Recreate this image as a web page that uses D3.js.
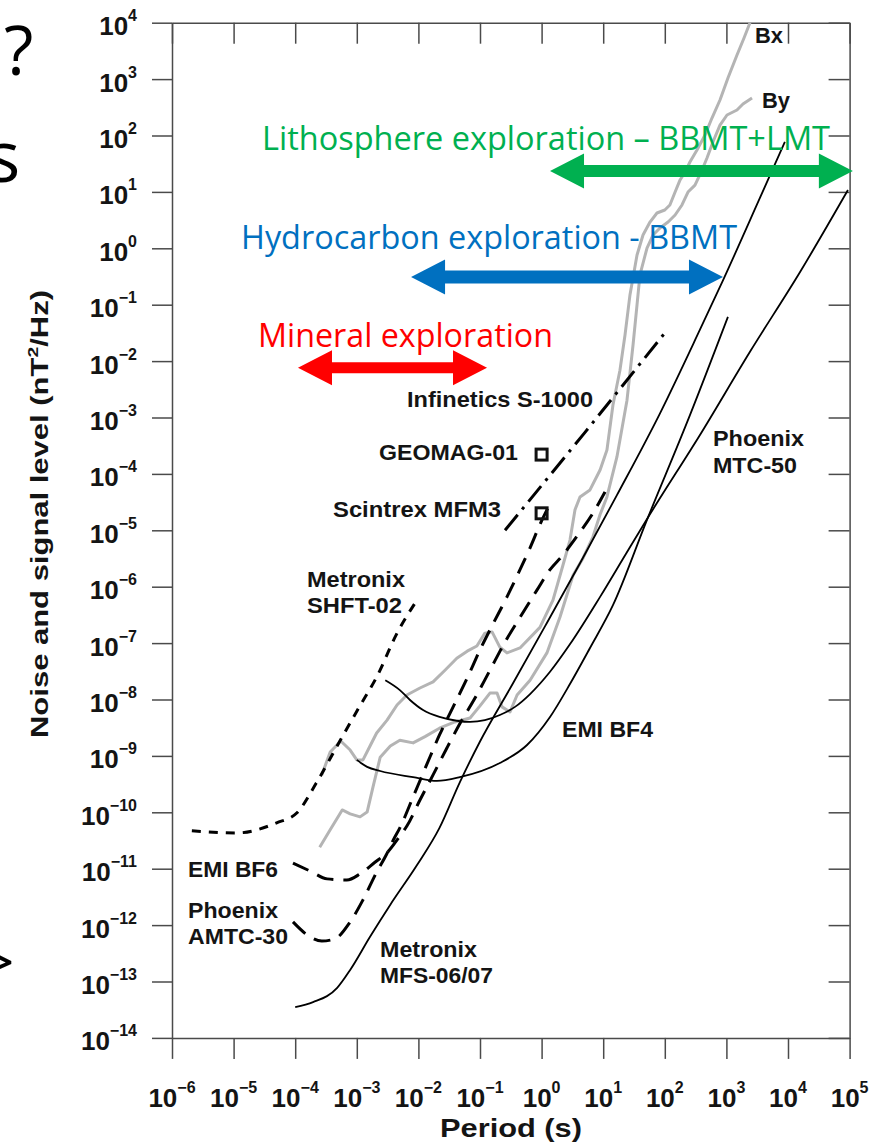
<!DOCTYPE html>
<html lang="en">
<head>
<meta charset="UTF-8">
<title>Magnetometer noise vs period</title>
<script src="https://d3js.org/d3.v7.min.js"></script>
<style>
  body { margin: 0; background: #fff; }
  svg { display: block; }
  .lbl { font-family: 'Liberation Sans', Arial, sans-serif; font-weight: bold; fill: #141414; }
  .slide { font-family: 'Open Sans', 'Noto Sans', sans-serif; }
</style>
</head>
<body>
<script>
// tick labels (powers of ten)
const xTickExps = [-6, -5, -4, -3, -2, -1, 0, 1, 2, 3, 4, 5];
const yTickExps = [-14, -13, -12, -11, -10, -9, -8, -7, -6, -5, -4, -3, -2, -1, 0, 1, 2, 3, 4];

// [period s, level nT^2/Hz]
const shft02 = [[2.1e-6,4.7e-11],[1.1e-5,4.3e-11],[5.0e-5,6.5e-11],[1.07e-4,9.8e-11],[2.2e-4,3.3e-10],
  [5.4e-4,1.9e-9],[1.1e-3,7.4e-9],[2.1e-3,2.5e-8],[4.5e-3,1.5e-7],[9.5e-3,5.8e-7]];
const bf6 = [[9.2e-5,1.26e-11],[1.74e-4,9.1e-12],[3.3e-4,6.6e-12],[6.9e-4,6.3e-12],[1.13e-3,8.1e-12],
  [1.97e-3,1.3e-11],[3.2e-3,2.0e-11],[5.0e-3,3.8e-11],[6.5e-3,5.7e-11],[1.06e-2,1.65e-10],[1.73e-2,4.6e-10],
  [2.9e-2,1.38e-9],[4.7e-2,3.7e-9],[8.3e-2,1.06e-8],[0.145,3.3e-8],[0.255,1.05e-7],[0.45,2.9e-7],
  [0.84,8.7e-7],[1.37,2.0e-6],[2.2,3.6e-6],[3.9,8.3e-6],[6.6,1.9e-5],[10.7,4.8e-5]];
const amtc30 = [[9.2e-5,1.14e-12],[1.74e-4,6.2e-13],[2.7e-4,5.2e-13],[4.4e-4,5.7e-13],[7.8e-4,1.14e-12],
  [1.26e-3,2.8e-12],[2.1e-3,8.7e-12],[3.0e-3,1.75e-11],[3.9e-3,3.2e-11],[5.0e-3,5.3e-11],[8.2e-3,1.87e-10],
  [1.38e-2,7.2e-10],[2.2e-2,2.35e-9],[3.6e-2,7.1e-9],[6.2e-2,2.4e-8],[0.1,7.6e-8],[0.163,2.2e-7],
  [0.274,6.6e-7],[0.446,2.0e-6],[0.65,4.9e-6],[0.98,1.4e-5],[1.27,2.5e-5]];
const infinetics = [[0.255,1.0e-5],[5.1,5.5e-4],[100,3.15e-2]];
const mfs0607 = [[1.0e-4,3.5e-14],[1.95e-4,4.3e-14],[4.8e-4,7.7e-14],[7.8e-4,1.6e-13],[1.64e-3,6.2e-13],
  [3.5e-3,2.3e-12],[9.5e-3,1.16e-11],[2.2e-2,5.3e-11],[4.7e-2,3.4e-10],[0.1,1.8e-9],[0.34,1.9e-8],
  [1.14,2.0e-7],[4.2,2.6e-6],[16.7,4.2e-5],[84,1.2e-3],[372,3.6e-2],[880,0.27],[3500,7.8],[8900,77]];
const mtc50 = [[2.9e-3,2.2e-8],[5.0e-3,1.47e-8],[7.3e-3,9.8e-9],[1.19e-2,6.5e-9],[2.2e-2,4.9e-9],
  [4.2e-2,4.2e-9],[6.9e-2,4.0e-9],[0.12,4.3e-9],[0.21,5.3e-9],[0.37,7.4e-9],[0.65,1.25e-8],[1.37,3.1e-8],
  [2.9,9.6e-8],[8.9,6.6e-7],[24,4.0e-6],[57,1.9e-5],[372,4.9e-4],[2400,1.45e-2],[15700,0.38],[94000,10.8]];
const bf4 = [[1.0e-3,8.5e-10],[1.47e-3,6.4e-10],[2.4e-3,5.4e-10],[8.2e-3,4.2e-10],[2.0e-2,3.6e-10],
  [4.7e-2,4.2e-10],[0.21,7.5e-10],[0.58,1.56e-9],[1.37,4.9e-9],[2.9,1.9e-8],[6.1,8.2e-8],[14.4,4.7e-7],
  [51,1.5e-5],[256,1.1e-3],[1060,6.1e-2]];
const bxSignal = [[2.7e-4,4.6e-10],[3.7e-4,1.17e-9],[5.5e-4,1.84e-9],[7.8e-4,1.27e-9],[1.0e-3,8.5e-10],
  [1.26e-3,8.5e-10],[1.64e-3,1.5e-9],[2.1e-3,2.55e-9],[3.1e-3,4.3e-9],[4.5e-3,8.0e-9],[6.5e-3,1.2e-8],
  [1.06e-2,1.6e-8],[1.73e-2,2.05e-8],[2.7e-2,3.3e-8],[4.2e-2,5.4e-8],[6.2e-2,7.2e-8],[8.9e-2,8.9e-8],
  [0.12,1.5e-7],[0.157,1.58e-7],[0.21,8.5e-8],[0.274,6.7e-8],[0.446,8.2e-8],[0.94,1.9e-7],[1.53,5.8e-7],
  [2.22,2.4e-6],[2.89,6.7e-6],[3.48,2.3e-5],[4.2,3.9e-5],[6.1,5.2e-5],[8.9,1.17e-4],[11.5,2.65e-4],
  [14.4,1.67e-3],[18.7,6.9e-3],[22.6,2.9e-2],[27.2,0.149],[35.4,0.76],[44.3,1.72],[57.5,2.92],[74.6,4.23],
  [100,4.78],[121,5.86],[147,9.95],[177,16.3],[213,22.5],[256,33.9],[333,55.3],[450,102],[583,204],
  [787,426],[1060,1047],[1486,2673],[1932,5358],[2415,1e4]];
const bySignal = [[2.5e-4,2.4e-11],[3.7e-4,4.9e-11],[5.8e-4,1.1e-10],[7.8e-4,9.4e-11],[1.13e-3,8.3e-11],
  [1.47e-3,1.01e-10],[1.83e-3,2.8e-10],[2.4e-3,9.5e-10],[3.5e-3,1.5e-9],[5.0e-3,1.9e-9],[8.2e-3,1.7e-9],
  [1.28e-2,2.2e-9],[2.2e-2,3.1e-9],[3.9e-2,4.0e-9],[6.9e-2,4.7e-9],[0.1,7.7e-9],[0.145,1.3e-8],
  [0.189,1.3e-8],[0.228,7.4e-9],[0.307,6.0e-9],[0.40,1.2e-8],[0.65,2.2e-8],[1.22,6.7e-8],[1.99,2.9e-7],
  [3.24,1.6e-6],[4.7,3.2e-6],[6.8,7.6e-6],[8.9,1.9e-5],[11.5,3.9e-5],[16.7,2.0e-4],[24.3,2.0e-3],
  [30.5,1.93e-2],[35.4,9.9e-2],[39.5,0.337],[51.4,1.01],[64.3,1.72],[83.6,2.29],[113,2.92],[147,3.89],
  [190,5.86],[238,9.95],[309,13.2],[402,24.4],[484,39.9],[605,76.7],[787,153],[1023,231],[1486,283],
  [1858,362],[2606,462]];
// single-point sensors (GEOMAG-01, Scintrex MFM3)
const pointSensors = [[1, 2.2e-4], [1, 2.0e-5]];

// exploration period ranges
const rangeNames = ['Lithosphere exploration \u2013 BBMT+LMT', 'Hydrocarbon exploration - BBMT', 'Mineral exploration'];
const rangeFrom = [1.37, 7.6e-3, 1.11e-4];
const rangeTo = [1.13e5, 880, 0.13];
const rangeLevel = [23.4, 0.31, 7.6e-3];

const W = 872, H = 1143;
const svg = d3.select('body').append('svg').attr('width', W).attr('height', H);

const x = d3.scaleLog().domain([1e-6, 1e5]).range([172, 849.6]);
const y = d3.scaleLog().domain([1e-14, 1e4]).range([1037.9, 22.7]);

// leftover slide text at the left edge
svg.append('text').attr('class', 'slide').attr('x', 4).attr('y', 75).attr('font-size', 68).text('?');
svg.append('text').attr('class', 'slide').attr('x', -14).attr('y', 182).attr('font-size', 72).text('s');
svg.append('text').attr('class', 'slide').attr('x', -22).attr('y', 985).attr('font-size', 64).text('>');

// frame + ticks
const frameColor = '#4a4a4a';
const xTicks = xTickExps.map(e => Math.pow(10, e));
const yTicks = yTickExps.map(e => Math.pow(10, e));
function styleAxis(g) {
  g.selectAll('path').attr('stroke', frameColor).attr('stroke-width', 1.5);
  g.selectAll('line').attr('stroke', frameColor).attr('stroke-width', 1.5);
  g.selectAll('text').remove();
}
svg.append('g').attr('transform', `translate(172,0)`)
  .call(d3.axisLeft(y).tickValues(yTicks).tickSize(20).tickSizeOuter(0)).call(styleAxis);
svg.append('g').attr('transform', `translate(849.6,0)`)
  .call(d3.axisLeft(y).tickValues(yTicks).tickSize(21).tickSizeOuter(0))
  .call(g => g.selectAll('.tick line').attr('x2', -21)).call(styleAxis);
svg.append('g').attr('transform', `translate(0,1037.9)`)
  .call(d3.axisBottom(x).tickValues(xTicks).tickSize(21).tickSizeOuter(0)).call(styleAxis);
svg.append('g').attr('transform', `translate(0,22.7)`)
  .call(d3.axisBottom(x).tickValues(xTicks).tickSize(21).tickSizeOuter(0)).call(styleAxis);

// tick labels, with a true minus sign in the exponent
const expText = e => (e < 0 ? '\u2212' + (-e) : String(e));
const yl = svg.append('g');
yTickExps.forEach(e => {
  const t = yl.append('text').attr('class', 'lbl').attr('text-anchor', 'end')
    .attr('x', 137).attr('y', y(Math.pow(10, e)) + 12.5).attr('font-size', 26);
  t.append('tspan').text('10');
  t.append('tspan').attr('font-size', 16).attr('dy', -14).text(expText(e));
});
const xl = svg.append('g');
xTickExps.forEach(e => {
  const t = xl.append('text').attr('class', 'lbl').attr('text-anchor', 'middle')
    .attr('x', x(Math.pow(10, e))).attr('y', 1107).attr('font-size', 26);
  t.append('tspan').text('10');
  t.append('tspan').attr('font-size', 16).attr('dy', -14).text(expText(e));
});

// axis titles
svg.append('text').attr('class', 'lbl').attr('x', 511).attr('y', 1137).attr('text-anchor', 'middle')
  .attr('font-size', 25).attr('textLength', 142).attr('lengthAdjust', 'spacingAndGlyphs').text('Period (s)');
const yt = svg.append('text').attr('class', 'lbl').attr('text-anchor', 'middle')
  .attr('transform', 'translate(48,514) rotate(-90)').attr('font-size', 24)
  .attr('textLength', 448).attr('lengthAdjust', 'spacingAndGlyphs');
yt.append('tspan').text('Noise and signal level (nT');
yt.append('tspan').attr('font-size', 15).attr('dy', -10).text('2');
yt.append('tspan').attr('dy', 10).text('/Hz)');

// curves
const lineLin = d3.line().x(d => x(d[0])).y(d => y(d[1]));
const lineSmooth = d3.line().x(d => x(d[0])).y(d => y(d[1])).curve(d3.curveMonotoneX);
const curves = [
  { data: bxSignal, gen: lineLin, stroke: '#b4b4b4', w: 3, dash: null },
  { data: bySignal, gen: lineLin, stroke: '#b4b4b4', w: 3, dash: null },
  { data: mfs0607, gen: lineSmooth, stroke: '#000', w: 1.8, dash: null },
  { data: mtc50, gen: lineSmooth, stroke: '#000', w: 1.8, dash: null },
  { data: bf4, gen: lineSmooth, stroke: '#000', w: 1.8, dash: null },
  { data: shft02, gen: lineSmooth, stroke: '#000', w: 3, dash: '9,8' },
  { data: bf6, gen: lineSmooth, stroke: '#000', w: 3, dash: '17,10' },
  { data: amtc30, gen: lineSmooth, stroke: '#000', w: 3, dash: '17,10' },
  { data: infinetics, gen: lineLin, stroke: '#000', w: 3, dash: '20,7,3,7' }
];
curves.forEach(c => {
  svg.append('path').attr('d', c.gen(c.data)).attr('fill', 'none')
    .attr('stroke', c.stroke).attr('stroke-width', c.w)
    .attr('stroke-dasharray', c.dash).attr('stroke-linejoin', 'round');
});

svg.selectAll('.sq').data(pointSensors).enter().append('rect')
  .attr('x', d => x(d[0]) - 5.5).attr('y', d => y(d[1]) - 5.5)
  .attr('width', 11).attr('height', 11).attr('fill', 'none')
  .attr('stroke', '#111').attr('stroke-width', 3);

// curve labels
const labels = [
  ['Bx', 755, 43, 28], ['By', 762, 108, 28],
  ['Infinetics S-1000', 407, 407, 186], ['GEOMAG-01', 379, 460, 139], ['Scintrex MFM3', 333, 517, 168],
  ['Metronix', 307, 587, 98], ['SHFT-02', 307, 613, 95],
  ['EMI BF6', 188, 877, 90], ['Phoenix', 188, 918, 90], ['AMTC-30', 188, 944, 100],
  ['Metronix', 380, 957, 97], ['MFS-06/07', 380, 983, 113],
  ['EMI BF4', 562, 737, 91], ['Phoenix', 713, 446, 91], ['MTC-50', 713, 473, 84]
];
labels.forEach(l => {
  svg.append('text').attr('class', 'lbl').attr('x', l[1]).attr('y', l[2]).attr('font-size', 22)
    .attr('textLength', l[3]).attr('lengthAdjust', 'spacingAndGlyphs').text(l[0]);
});

// exploration arrows + titles
const rangeColors = ['#00B050', '#0070C0', '#FF0000'];
const rangeShaft = [6, 6.5, 5.5];
const textPos = [[262, 150, 568], [241, 249, 496], [258, 347, 295]];
rangeNames.forEach((name, i) => {
  const x1 = x(rangeFrom[i]), x2 = x(rangeTo[i]), yc = y(rangeLevel[i]);
  const hl = 34, hh = 17.5, s = rangeShaft[i];
  const pts = [[x1, yc], [x1 + hl, yc - hh], [x1 + hl, yc - s], [x2 - hl, yc - s], [x2 - hl, yc - hh],
    [x2, yc], [x2 - hl, yc + hh], [x2 - hl, yc + s], [x1 + hl, yc + s], [x1 + hl, yc + hh]];
  svg.append('path').attr('d', 'M' + pts.join('L') + 'Z').attr('fill', rangeColors[i]);
  svg.append('text').attr('class', 'slide').attr('x', textPos[i][0]).attr('y', textPos[i][1])
    .attr('font-size', 33).attr('fill', rangeColors[i])
    .attr('textLength', textPos[i][2]).attr('lengthAdjust', 'spacingAndGlyphs').text(name);
});
</script>
</body>
</html>
